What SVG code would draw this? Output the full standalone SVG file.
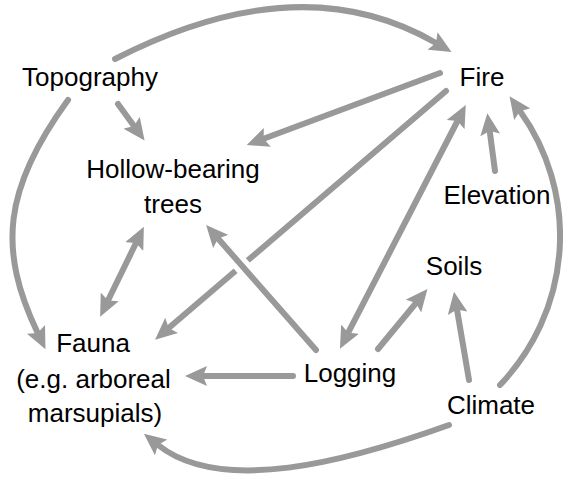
<svg xmlns="http://www.w3.org/2000/svg" width="563" height="477" viewBox="0 0 563 477">
<defs>
<style>
.c{fill:none;stroke:#999;stroke-width:6;stroke-linecap:round}
.h{fill:none;stroke:#fff;stroke-width:16}
.a{marker-end:url(#ah)}
.b{marker-start:url(#ah);marker-end:url(#ah)}
text{font-family:"Liberation Sans",Arial,sans-serif;font-size:26px;fill:#000;text-anchor:middle}
</style>
<marker id="ah" viewBox="0 0 22 20" refX="4" refY="10" markerWidth="22" markerHeight="20" markerUnits="userSpaceOnUse" orient="auto-start-reverse">
<path d="M0,0 L22,10 L0,20 L4,10 z" fill="#999"/>
</marker>
</defs>
<rect width="563" height="477" fill="#fff"/>
<g id="connectors">
<path class="c a" d="M115,59 Q300,-36 436,43"/>
<path class="c a" d="M118,104 L134,126"/>
<path class="c a" d="M440,73 L263.6,138.7"/>
<path class="c a" d="M446,91 L168.7,328"/>
<path class="c b" d="M348.2,332.7 L457.5,121"/>
<path class="c a" d="M495,171 L489.7,131"/>
<path class="c a" d="M500,385 A215,215 0 0 0 520,111"/>
<path class="c b" d="M136,243 L108,300.5"/>
<path class="h" d="M251.5,276.8 L231.7,254.2"/>
<path class="c a" d="M316,350 L218,238.5"/>
<path class="c a" d="M378,349 L416,303"/>
<path class="c a" d="M469,380 L457,309.4"/>
<path class="c a" d="M293,376 L203,376"/>
<path class="c a" d="M449,425 C346,462 221,495 158,445"/>
<path class="c a" d="M68,100 C3,189 -2,250 37.7,333"/>
</g>
<g id="topography"><text x="90" y="86">Topography</text></g>
<g id="fire"><text x="482" y="86">Fire</text></g>
<g id="hollow-bearing-trees"><text x="173" y="178">Hollow-bearing</text><text x="173" y="213">trees</text></g>
<g id="elevation"><text x="497" y="204">Elevation</text></g>
<g id="soils"><text x="454" y="275">Soils</text></g>
<g id="fauna"><text x="93" y="352">Fauna</text><text x="93.5" y="388">(e.g. arboreal</text><text x="95" y="422">marsupials)</text></g>
<g id="logging"><text x="350" y="382">Logging</text></g>
<g id="climate"><text x="491" y="414">Climate</text></g>
</svg>
